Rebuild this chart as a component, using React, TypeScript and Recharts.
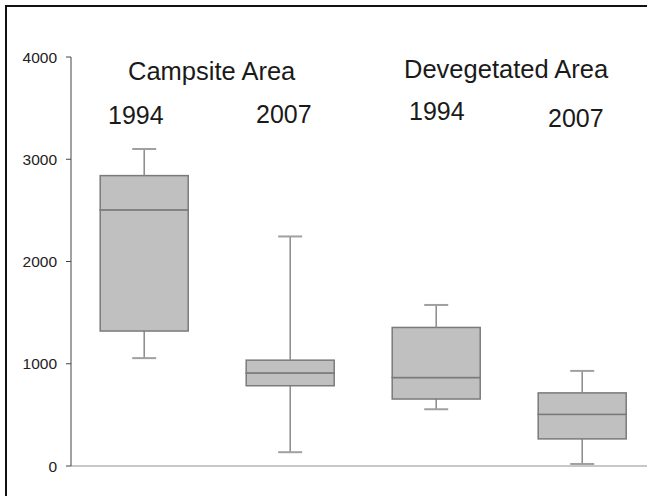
import React from "react";
import { ComposedChart, Bar, XAxis, YAxis, ReferenceLine } from "recharts";

const categories = ["Campsite 1994", "Campsite 2007", "Devegetated 1994", "Devegetated 2007"];
const minValues = [1055, 135, 555, 20];
const q1Values = [1320, 785, 655, 265];
const medianValues = [2505, 910, 865, 505];
const q3Values = [2840, 1035, 1355, 715];
const maxValues = [3100, 2245, 1575, 930];
const yTicks = [0, 1000, 2000, 3000, 4000];

const data = categories.map((name, i) => ({
  name,
  base: minValues[i],
  lowWhisker: q1Values[i] - minValues[i],
  boxLow: medianValues[i] - q1Values[i],
  boxHigh: q3Values[i] - medianValues[i],
  highWhisker: maxValues[i] - q3Values[i],
}));

const FONT = "'Liberation Sans', Arial, Helvetica, sans-serif";
const CAP = 12;

const LowWhisker = (props: any) => {
  const { x, y, width, height } = props;
  const cx = x + width / 2;
  return (
    <g>
      <line x1={cx} x2={cx} y1={y} y2={y + height} stroke="#8a8a8a" strokeWidth={1.5} />
      <line x1={cx - CAP} x2={cx + CAP} y1={y + height} y2={y + height} stroke="#a0a0a0" strokeWidth={2} />
    </g>
  );
};

const HighWhisker = (props: any) => {
  const { x, y, width, height } = props;
  const cx = x + width / 2;
  return (
    <g>
      <line x1={cx} x2={cx} y1={y} y2={y + height} stroke="#8a8a8a" strokeWidth={1.5} />
      <line x1={cx - CAP} x2={cx + CAP} y1={y} y2={y} stroke="#a0a0a0" strokeWidth={2} />
    </g>
  );
};

const BoxPart = (props: any) => {
  const { x, y, width, height } = props;
  return (
    <rect x={x} y={y} width={width} height={height} fill="#c0c0c0" stroke="#7a7a7a" strokeWidth={1.5} />
  );
};

const labels = [
  { text: "Campsite Area", x: 128, y: 79.5, size: 25.5 },
  { text: "Devegetated Area", x: 404, y: 78, size: 25.5 },
  { text: "1994", x: 108, y: 123.5, size: 25 },
  { text: "2007", x: 256, y: 123, size: 25 },
  { text: "1994", x: 409, y: 119.5, size: 25 },
  { text: "2007", x: 548, y: 126.5, size: 25 },
];

export default function App() {
  return (
    <div style={{ position: "absolute", left: 0, top: 0, width: 647, height: 496, background: "#fff", overflow: "hidden" }}>
      <div
        style={{
          position: "absolute",
          left: 5,
          top: 5,
          width: 800,
          height: 800,
          borderLeft: "2px solid #111",
          borderTop: "2px solid #111",
        }}
      />
      <div style={{ position: "absolute", left: 0, top: 0 }}>
        <ComposedChart
          width={647}
          height={496}
          data={data}
          margin={{ top: 57, right: -8, bottom: 30, left: 8 }}
          barCategoryGap="20%"
        >
          <XAxis dataKey="name" hide />
          <YAxis
            width={63}
            domain={[0, 4000]}
            ticks={yTicks}
            interval={0}
            axisLine={{ stroke: "#444", strokeWidth: 1 }}
            tickLine={{ stroke: "#444", strokeWidth: 1 }}
            tickSize={5}
            tickMargin={9}
            tick={{ fontSize: 15.5, fill: "#222", fontFamily: FONT }}
          />
          <ReferenceLine y={0} stroke="#c8c8c8" strokeWidth={2} />
          <Bar dataKey="base" stackId="a" fill="none" isAnimationActive={false} />
          <Bar dataKey="lowWhisker" stackId="a" shape={<LowWhisker />} isAnimationActive={false} />
          <Bar dataKey="boxLow" stackId="a" shape={<BoxPart />} isAnimationActive={false} />
          <Bar dataKey="boxHigh" stackId="a" shape={<BoxPart />} isAnimationActive={false} />
          <Bar dataKey="highWhisker" stackId="a" shape={<HighWhisker />} isAnimationActive={false} />
        </ComposedChart>
      </div>
      <svg width={647} height={496} style={{ position: "absolute", left: 0, top: 0, pointerEvents: "none" }}>
        {labels.map((l, i) => (
          <text key={i} x={l.x} y={l.y} fontSize={l.size} fill="#1a1a1a" fontFamily={FONT}>
            {l.text}
          </text>
        ))}
      </svg>
    </div>
  );
}
